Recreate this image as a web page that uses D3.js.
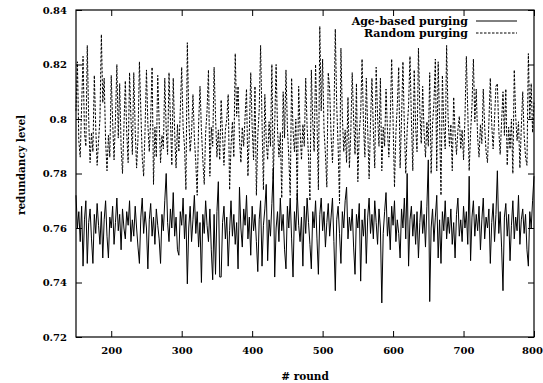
<!DOCTYPE html>
<html>
<head>
<meta charset="utf-8">
<script src="https://cdn.jsdelivr.net/npm/d3@7"></script>
<style>
  body { margin: 0; background: #fff; }
  text { font-family: "DejaVu Serif", serif; font-weight: bold; fill: #000; }
</style>
</head>
<body>
<svg id="chart" width="543" height="383"></svg>
<script>
// rounds are sampled every 2 rounds from 150 to 800
const roundStart = 150;
const roundEnd = 800;
const roundStep = 2;

const seriesNames = ['Age-based purging', 'Random purging'];

// Age-based purging (solid line)
const ageBased = [
  0.772, 0.760, 0.766, 0.755, 0.768, 0.746, 0.763, 0.770, 0.747, 0.762,
  0.767, 0.756, 0.747, 0.765, 0.758, 0.769, 0.761, 0.754, 0.766, 0.749,
  0.763, 0.770, 0.757, 0.749, 0.764, 0.760, 0.768, 0.754, 0.762, 0.771,
  0.759, 0.765, 0.752, 0.767, 0.760, 0.756, 0.766, 0.761, 0.770, 0.755,
  0.763, 0.757, 0.768, 0.760, 0.753, 0.747, 0.764, 0.771, 0.758, 0.766,
  0.760, 0.745, 0.763, 0.769, 0.757, 0.764, 0.754, 0.767, 0.761, 0.756,
  0.747, 0.765, 0.759, 0.770, 0.780, 0.762, 0.755, 0.767, 0.760, 0.773,
  0.757, 0.764, 0.752, 0.750, 0.766, 0.761, 0.771, 0.756, 0.765, 0.7395,
  0.760, 0.768, 0.755, 0.763, 0.772, 0.758, 0.766, 0.753, 0.762, 0.740,
  0.765, 0.758, 0.770, 0.761, 0.755, 0.767, 0.752, 0.741, 0.765, 0.743,
  0.766, 0.777, 0.742, 0.742, 0.762, 0.768, 0.756, 0.764, 0.746, 0.759,
  0.770, 0.757, 0.765, 0.754, 0.762, 0.745, 0.775, 0.760, 0.753, 0.767,
  0.761, 0.772, 0.756, 0.764, 0.750, 0.768, 0.759, 0.765, 0.755, 0.744,
  0.763, 0.770, 0.746, 0.761, 0.767, 0.776, 0.748, 0.763, 0.757, 0.769,
  0.782, 0.742, 0.760, 0.766, 0.755, 0.771, 0.759, 0.765, 0.752, 0.745,
  0.768, 0.760, 0.771, 0.756, 0.742, 0.766, 0.759, 0.773, 0.761, 0.755,
  0.764, 0.746, 0.768, 0.758, 0.771, 0.762, 0.754, 0.745, 0.766, 0.760,
  0.770, 0.756, 0.743, 0.765, 0.771, 0.759, 0.766, 0.753, 0.762, 0.769,
  0.757, 0.764, 0.771, 0.755, 0.737, 0.763, 0.768, 0.758, 0.747, 0.766,
  0.760, 0.770, 0.775, 0.756, 0.764, 0.759, 0.767, 0.753, 0.743, 0.765,
  0.760, 0.769, 0.7405, 0.763, 0.757, 0.767, 0.747, 0.764, 0.771, 0.758,
  0.765, 0.756, 0.770, 0.762, 0.754, 0.767, 0.760, 0.7325, 0.758, 0.766,
  0.773, 0.757, 0.764, 0.752, 0.768, 0.761, 0.770, 0.755, 0.763, 0.758,
  0.749, 0.767, 0.760, 0.771, 0.756, 0.780, 0.746, 0.763, 0.768, 0.757,
  0.765, 0.754, 0.766, 0.749, 0.762, 0.770, 0.758, 0.765, 0.753, 0.768,
  0.785, 0.733, 0.760, 0.767, 0.755, 0.764, 0.772, 0.749, 0.763, 0.747,
  0.766, 0.759, 0.770, 0.756, 0.764, 0.758, 0.767, 0.754, 0.762, 0.749,
  0.765, 0.771, 0.757, 0.763, 0.755, 0.768, 0.760, 0.766, 0.754, 0.779,
  0.748, 0.764, 0.770, 0.757, 0.765, 0.759, 0.768, 0.752, 0.763, 0.771,
  0.756, 0.764, 0.760, 0.767, 0.747, 0.762, 0.769, 0.755, 0.765, 0.781,
  0.758, 0.766, 0.753, 0.737, 0.764, 0.769, 0.757, 0.765, 0.748, 0.761,
  0.770, 0.756, 0.764, 0.759, 0.772, 0.754, 0.763, 0.767, 0.758, 0.765,
  0.752, 0.746, 0.766, 0.760, 0.770, 0.779
];

// Random purging (dashed line)
const randomPurging = [
  0.803, 0.821, 0.792, 0.786, 0.805, 0.823, 0.795, 0.790, 0.827, 0.800,
  0.784, 0.795, 0.788, 0.816, 0.797, 0.783, 0.792, 0.800, 0.831, 0.806,
  0.815, 0.792, 0.781, 0.794, 0.786, 0.816, 0.799, 0.785, 0.800, 0.820,
  0.793, 0.813, 0.790, 0.780, 0.797, 0.814, 0.795, 0.784, 0.817, 0.800,
  0.787, 0.817, 0.796, 0.782, 0.793, 0.821, 0.803, 0.786, 0.779, 0.796,
  0.818, 0.798, 0.788, 0.800, 0.819, 0.776, 0.797, 0.786, 0.816, 0.799,
  0.784, 0.794, 0.789, 0.815, 0.796, 0.787, 0.817, 0.800, 0.783, 0.815,
  0.795, 0.782, 0.798, 0.788, 0.803, 0.819, 0.797, 0.790, 0.774, 0.828,
  0.801, 0.788, 0.795, 0.809, 0.793, 0.784, 0.772, 0.798, 0.812, 0.796,
  0.785, 0.776, 0.795, 0.803, 0.818, 0.779, 0.797, 0.790, 0.819, 0.801,
  0.786, 0.796, 0.785, 0.807, 0.794, 0.783, 0.796, 0.800, 0.809, 0.774,
  0.790, 0.799, 0.786, 0.824, 0.801, 0.812, 0.793, 0.784, 0.797, 0.790,
  0.801, 0.811, 0.779, 0.795, 0.817, 0.797, 0.785, 0.812, 0.772, 0.794,
  0.803, 0.827, 0.799, 0.774, 0.809, 0.792, 0.785, 0.799, 0.790, 0.820,
  0.778, 0.798, 0.820, 0.796, 0.786, 0.795, 0.771, 0.810, 0.793, 0.818,
  0.797, 0.786, 0.772, 0.815, 0.796, 0.788, 0.800, 0.770, 0.812, 0.796,
  0.785, 0.798, 0.790, 0.815, 0.797, 0.786, 0.770, 0.818, 0.799, 0.788,
  0.820, 0.800, 0.774, 0.834, 0.803, 0.822, 0.796, 0.787, 0.775, 0.817,
  0.811, 0.794, 0.784, 0.799, 0.833, 0.805, 0.790, 0.769, 0.826, 0.801,
  0.788, 0.796, 0.784, 0.808, 0.782, 0.795, 0.817, 0.800, 0.787, 0.813,
  0.777, 0.795, 0.802, 0.822, 0.798, 0.786, 0.815, 0.796, 0.778, 0.799,
  0.815, 0.796, 0.782, 0.819, 0.801, 0.790, 0.815, 0.781, 0.797, 0.790,
  0.811, 0.796, 0.786, 0.800, 0.822, 0.799, 0.775, 0.795, 0.805, 0.819,
  0.782, 0.800, 0.821, 0.797, 0.780, 0.796, 0.805, 0.823, 0.800, 0.781,
  0.818, 0.797, 0.788, 0.826, 0.803, 0.791, 0.812, 0.795, 0.786, 0.799,
  0.790, 0.817, 0.780, 0.798, 0.806, 0.822, 0.781, 0.821, 0.799, 0.772,
  0.816, 0.797, 0.789, 0.827, 0.801, 0.790, 0.798, 0.781, 0.808, 0.795,
  0.787, 0.796, 0.801, 0.789, 0.796, 0.785, 0.800, 0.823, 0.803, 0.781,
  0.795, 0.805, 0.822, 0.799, 0.811, 0.793, 0.786, 0.798, 0.791, 0.811,
  0.797, 0.788, 0.784, 0.799, 0.815, 0.798, 0.789, 0.800, 0.812, 0.813,
  0.796, 0.787, 0.799, 0.810, 0.794, 0.811, 0.783, 0.797, 0.789, 0.800,
  0.780, 0.818, 0.801, 0.792, 0.799, 0.782, 0.797, 0.810, 0.794, 0.786,
  0.783, 0.824, 0.800, 0.813, 0.795, 0.806
];

const xTicks = [200, 300, 400, 500, 600, 700, 800];
const yTicks = [0.72, 0.74, 0.76, 0.78, 0.8, 0.82, 0.84];

const svg = d3.select('svg#chart');

// plot box in page pixels
const pad = {top: 10, right: 9, bottom: 46, left: 76};
const size = {width: +svg.attr('width'), height: +svg.attr('height')};
const width = size.width - pad.left - pad.right;
const height = size.height - pad.top - pad.bottom;

const plot = svg.append('g').attr('transform', `translate(${pad.left}, ${pad.top})`);

const rounds = d3.range(roundStart, roundEnd + 1, roundStep);

const x = d3.scaleLinear().domain([roundStart, roundEnd]).range([0, width]);
const y = d3.scaleLinear().domain([0.72, 0.84]).range([height, 0]);

const line = d3.line()
  .x((d, i) => x(rounds[i]))
  .y(d => y(d));

drawAxes();
drawLines();
drawLegend();

function drawAxes() {
  const tick = 6;
  // bottom + left with labels, top + right mirrored without labels
  const bottom = plot.append('g')
    .attr('transform', `translate(0, ${height})`)
    .call(d3.axisBottom(x).tickValues(xTicks).tickSizeInner(-tick).tickSizeOuter(0)
      .tickPadding(10).tickFormat(d3.format('d')));
  plot.append('g')
    .call(d3.axisTop(x).tickValues(xTicks).tickSizeInner(-tick).tickSizeOuter(0)
      .tickFormat(''));
  plot.append('g')
    .call(d3.axisLeft(y).tickValues(yTicks).tickSizeInner(-tick).tickSizeOuter(0)
      .tickPadding(9).tickFormat(d => d3.format('')(+d.toFixed(2))));
  plot.append('g')
    .attr('transform', `translate(${width}, 0)`)
    .call(d3.axisRight(y).tickValues(yTicks).tickSizeInner(-tick).tickSizeOuter(0)
      .tickFormat(''));

  plot.selectAll('.domain').remove();
  plot.selectAll('.tick line').attr('stroke', '#000');
  plot.selectAll('.tick text')
    .style('font-family', '"DejaVu Serif", serif')
    .style('font-weight', 'bold')
    .style('font-size', '10px');

  // keep the last x label inside the page edge
  bottom.selectAll('.tick text')
    .filter(d => d === roundEnd)
    .attr('dx', -2);

  plot.append('rect')
    .attr('width', width)
    .attr('height', height)
    .attr('fill', 'none')
    .attr('stroke', '#000')
    .attr('stroke-width', 1.2);

  svg.append('text')
    .attr('x', pad.left + width / 2)
    .attr('y', 380)
    .attr('text-anchor', 'middle')
    .style('font-size', '10.5px')
    .text('# round');

  svg.append('text')
    .attr('transform', 'translate(21, 165) rotate(-90)')
    .attr('text-anchor', 'middle')
    .attr('dy', '0.35em')
    .style('font-size', '10.5px')
    .text('redundancy level');
}

function drawLines() {
  plot.append('path')
    .datum(randomPurging)
    .attr('d', line)
    .attr('fill', 'none')
    .attr('stroke', '#000')
    .attr('stroke-width', 1)
    .attr('stroke-dasharray', '2.5,1.5');

  plot.append('path')
    .datum(ageBased)
    .attr('d', line)
    .attr('fill', 'none')
    .attr('stroke', '#000')
    .attr('stroke-width', 1);
}

function drawLegend() {
  const lg = {textRight: 468, lineX0: 476, lineX1: 517, y0: 21, step: 12};
  const dashes = ['none', '2.5,1.5'];

  const rows = svg.append('g').selectAll('g')
    .data(seriesNames)
    .enter().append('g')
      .attr('transform', (d, i) => `translate(0, ${lg.y0 + i * lg.step})`);

  rows.append('text')
    .attr('x', lg.textRight)
    .attr('dy', '0.35em')
    .attr('text-anchor', 'end')
    .style('font-size', '11px')
    .text(d => d);

  rows.append('line')
    .attr('x1', lg.lineX0)
    .attr('x2', lg.lineX1)
    .attr('stroke', '#000')
    .attr('stroke-width', 1)
    .attr('stroke-dasharray', (d, i) => dashes[i]);
}
</script>
</body>
</html>
